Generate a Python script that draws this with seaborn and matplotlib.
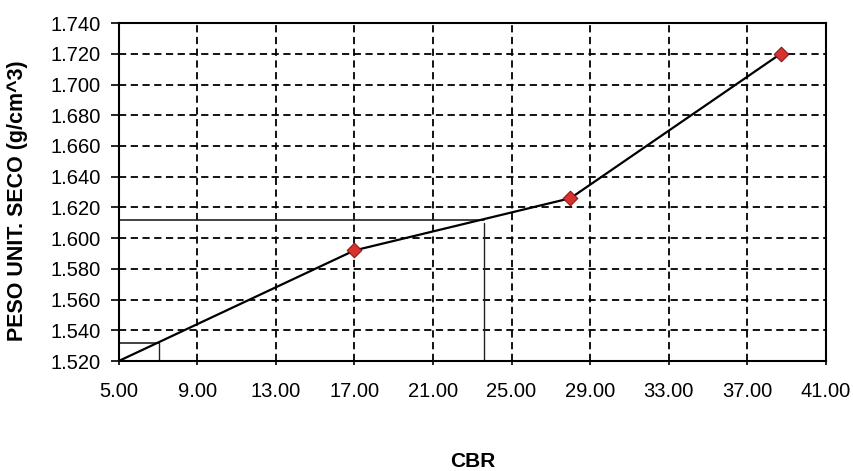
import matplotlib
matplotlib.use("Agg")
import matplotlib.pyplot as plt
import seaborn as sns
import pandas as pd

# Compaction curve: CBR vs dry unit weight
cbr_curve = [5.00, 17.00, 28.00, 38.70]
density_curve = [1.520, 1.592, 1.626, 1.720]

# Measured specimens
cbr_points = [17.00, 28.00, 38.70]
density_points = [1.592, 1.626, 1.720]

# Read-off lines for target densities
target_density = [1.612, 1.532]
target_cbr = [23.60, 7.05]

x_ticks = [5, 9, 13, 17, 21, 25, 29, 33, 37, 41]
y_ticks = [1.520, 1.540, 1.560, 1.580, 1.600, 1.620, 1.640, 1.660, 1.680, 1.700, 1.720, 1.740]

sns.set_style("white")
plt.rcParams["font.family"] = ["Liberation Sans", "DejaVu Sans"]
plt.rcParams["text.color"] = "black"
plt.rcParams["axes.labelcolor"] = "black"
plt.rcParams["xtick.color"] = "black"
plt.rcParams["ytick.color"] = "black"

fig, ax = plt.subplots(figsize=(8.54, 4.71), dpi=100)
fig.subplots_adjust(left=0.139, right=0.967, top=0.951, bottom=0.2335)

curve = pd.DataFrame({"CBR": cbr_curve, "density": density_curve})
pts = pd.DataFrame({"CBR": cbr_points, "density": density_points})

ax.set_xlim(5, 41)
ax.set_ylim(1.520, 1.740)
ax.set_xticks(x_ticks)
ax.set_yticks(y_ticks)
ax.set_xticklabels([f"{v:.2f}" for v in x_ticks])
ax.set_yticklabels([f"{v:.3f}" for v in y_ticks])

ax.grid(True, color="black", linestyle=(0, (4, 2.5)), linewidth=1.3)
ax.set_axisbelow(True)

# Read-off lines
for d, c in zip(target_density, target_cbr):
    ax.plot([5, c], [d, d], color="#222222", linewidth=1.2, zorder=2)
    ax.plot([c, c], [d - 0.002 if c > 10 else d, 1.520], color="#222222",
            linewidth=1.0, zorder=2)

sns.lineplot(data=curve, x="CBR", y="density", ax=ax, color="black",
             linewidth=1.6, zorder=3, clip_on=False)
sns.scatterplot(data=pts, x="CBR", y="density", ax=ax, marker="D", s=55,
                color="#d6322e", edgecolor="#8a1a18", linewidth=0.8, zorder=4,
                clip_on=False)

for side in ["left", "right", "top", "bottom"]:
    ax.spines[side].set_visible(True)
    ax.spines[side].set_color("black")
    ax.spines[side].set_linewidth(1.5)

ax.tick_params(axis="y", direction="out", length=6, width=1.2, pad=7,
               labelsize=14.5, labelcolor="black", color="black", left=True)
ax.tick_params(axis="x", direction="out", length=3, width=1.2, pad=12,
               labelsize=14.5, labelcolor="black", color="black", bottom=True)

ax.set_xlabel("CBR", fontsize=15, fontweight="bold", color="black")
ax.set_ylabel("PESO UNIT. SECO (g/cm^3)", fontsize=15.5, fontweight="bold",
              color="black")
ax.xaxis.set_label_coords(0.5, -0.27)
ax.yaxis.set_label_coords(-0.128, 0.475)

fig.savefig("out.png", dpi=100)
